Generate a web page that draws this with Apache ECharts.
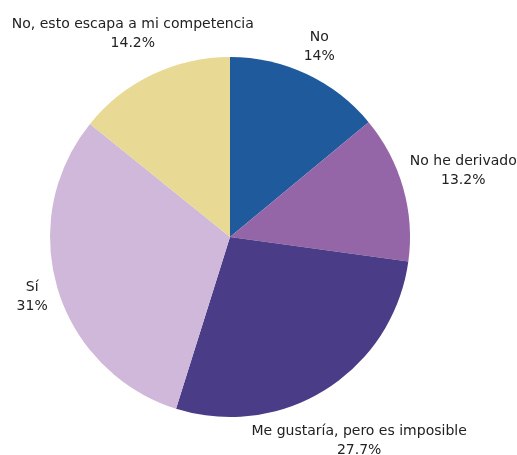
<!DOCTYPE html>
<html>
<head>
<meta charset="utf-8">
<script src="https://cdn.jsdelivr.net/npm/echarts@6/dist/echarts.min.js"></script>
<style>
  html, body { margin: 0; padding: 0; background: #fff; }
  #chart { width: 517px; height: 455px; }
</style>
</head>
<body>
<div id="chart"></div>
<script>
// Survey answers, clockwise from 12 o'clock
const categories = [
  'No',
  'No he derivado',
  'Me gustaría, pero es imposible',
  'Sí',
  'No, esto escapa a mi competencia'
];
const percentages = [14, 13.2, 27.7, 31, 14.2];
const colors = ['#1f5a9d', '#9466a7', '#4b3c87', '#cfb8d9', '#e8d994'];

const CX = 230, CY = 237, R = 180, GAP = 6;
const total = percentages.reduce((a, b) => a + b, 0);

// mid angle of each slice, measured clockwise from the top (radians)
const midAngles = [];
let acc = 0;
percentages.forEach(v => {
  midAngles.push(((acc + v / 2) / total) * Math.PI * 2);
  acc += v;
});

const chart = echarts.init(document.getElementById('chart'), null, { renderer: 'canvas' });
chart.setOption({
  animation: false,
  series: [{
    type: 'pie',
    center: [CX, CY],
    radius: R,
    startAngle: 90,
    clockwise: true,
    data: categories.map((name, i) => ({
      name,
      value: percentages[i],
      itemStyle: { color: colors[i] }
    })),
    label: {
      show: true,
      position: 'outside',
      formatter: p => p.name + '\n' + p.value + '%',
      fontFamily: 'DejaVu Sans',
      fontSize: 14,
      lineHeight: 19,
      color: '#222',
      align: 'center',
      overflow: 'none'
    },
    labelLine: { show: false },
    // push each centred label box outward along its slice's mid angle
    // until its nearest corner sits just outside the rim
    labelLayout: function (params) {
      const th = midAngles[params.dataIndex];
      const ux = Math.sin(th), uy = -Math.cos(th);
      const hw = params.labelRect.width / 2, hh = params.labelRect.height / 2;
      const sx = Math.sign(ux) * hw, sy = Math.sign(uy) * hh;
      const us = ux * sx + uy * sy;
      const rr = R + GAP;
      const t = us + Math.sqrt(Math.max(0, us * us - (sx * sx + sy * sy) + rr * rr));
      return {
        x: CX + t * ux,
        y: CY + t * uy,
        align: 'center',
        verticalAlign: 'middle'
      };
    }
  }]
});
</script>
</body>
</html>
